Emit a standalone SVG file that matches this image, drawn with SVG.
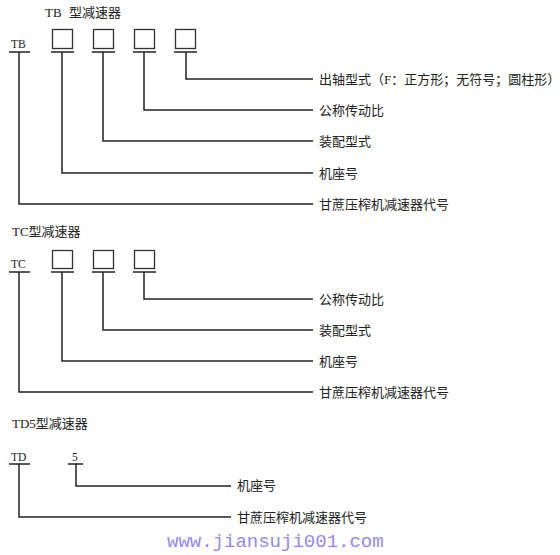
<svg xmlns="http://www.w3.org/2000/svg" width="560" height="555" viewBox="0 0 560 555">
<style>
.t{font-family:"Liberation Serif","Noto Sans CJK SC",serif;font-size:13px;fill:#222}
.c{font-family:"Liberation Serif","Noto Sans CJK SC",serif;font-size:11.5px;fill:#222}
.ln{fill:none;stroke:#222;stroke-width:1.5}
.bx{fill:#fff;stroke:#333;stroke-width:1.3}
.wm{font-family:"Liberation Mono",monospace;font-size:19px;fill:#9488f2}
</style>
<rect width="560" height="555" fill="#fff"/>
<g id="sectionTB">
<text class="t" x="45" y="17">TB<tspan x="69">型减速器</tspan></text>
<g id="tb-code"><text class="c" x="11" y="48">TB</text><line class="ln" x1="9" y1="52" x2="30" y2="52"/></g>
<g id="tb-box1"><rect class="bx" x="52.5" y="29.5" width="20" height="19"/><line class="ln" x1="51" y1="52" x2="74" y2="52"/></g>
<g id="tb-box2"><rect class="bx" x="93.5" y="29.5" width="20" height="19"/><line class="ln" x1="92" y1="52" x2="115" y2="52"/></g>
<g id="tb-box3"><rect class="bx" x="134.5" y="29.5" width="20" height="19"/><line class="ln" x1="133" y1="52" x2="156" y2="52"/></g>
<g id="tb-box4"><rect class="bx" x="175.5" y="29.5" width="20" height="19"/><line class="ln" x1="174" y1="52" x2="197" y2="52"/></g>
<g id="tb-l1"><text class="t" x="319" y="83.5">出轴型式（F：正方形；无符号；圆柱形）</text></g>
<g id="tb-l2"><text class="t" x="319" y="114.5">公称传动比</text></g>
<g id="tb-l3"><text class="t" x="319" y="145.5">装配型式</text></g>
<g id="tb-l4"><text class="t" x="319" y="177.5">机座号</text></g>
<g id="tb-l5"><text class="t" x="319" y="208.5">甘蔗压榨机减速器代号</text></g>
</g>
<g id="sectionTC">
<text class="t" x="12" y="236">TC型减速器</text>
<g id="tc-code"><text class="c" x="11" y="268">TC</text><line class="ln" x1="9" y1="272" x2="30" y2="272"/></g>
<g id="tc-box1"><rect class="bx" x="52.5" y="250.5" width="20" height="18"/><line class="ln" x1="51" y1="272" x2="74" y2="272"/></g>
<g id="tc-box2"><rect class="bx" x="93.5" y="250.5" width="20" height="18"/><line class="ln" x1="92" y1="272" x2="115" y2="272"/></g>
<g id="tc-box3"><rect class="bx" x="134.5" y="250.5" width="20" height="18"/><line class="ln" x1="133" y1="272" x2="156" y2="272"/></g>
<g id="tc-l1"><text class="t" x="319" y="303.5">公称传动比</text></g>
<g id="tc-l2"><text class="t" x="319" y="334.5">装配型式</text></g>
<g id="tc-l3"><text class="t" x="319" y="365.5">机座号</text></g>
<g id="tc-l4"><text class="t" x="319" y="396.5">甘蔗压榨机减速器代号</text></g>
</g>
<g id="sectionTD">
<text class="t" x="12" y="428">TD5型减速器</text>
<g id="td-code"><text class="c" x="11" y="461">TD</text><line class="ln" x1="9" y1="464" x2="30" y2="464"/></g>
<g id="td-5"><text class="c" x="72" y="461">5</text><line class="ln" x1="68" y1="464" x2="83" y2="464"/></g>
<g id="td-l1"><text class="t" x="237" y="490">机座号</text></g>
<g id="td-l2"><text class="t" x="237" y="521.5">甘蔗压榨机减速器代号</text></g>
</g>
<g id="connectors">
<polyline class="ln" points="186,52 186,79 313,79"/>
<polyline class="ln" points="144,52 144,110 313,110"/>
<polyline class="ln" points="103,52 103,141 313,141"/>
<polyline class="ln" points="62,52 62,173 313,173"/>
<polyline class="ln" points="19,52 19,204 313,204"/>
<polyline class="ln" points="144,272 144,299 313,299"/>
<polyline class="ln" points="103,272 103,330 313,330"/>
<polyline class="ln" points="62,272 62,361 313,361"/>
<polyline class="ln" points="19,272 19,392 313,392"/>
<polyline class="ln" points="76,464 76,486 231,486"/>
<polyline class="ln" points="19,464 19,517 231,517"/>
</g>
<text class="wm" x="167" y="547">www.jiansuji001.com</text>
</svg>
